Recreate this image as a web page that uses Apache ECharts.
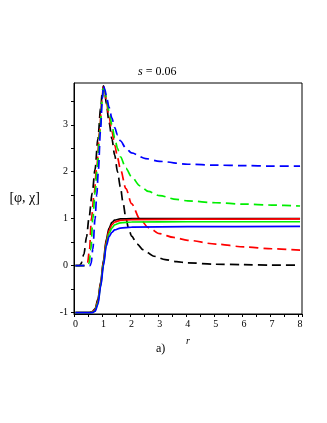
<!DOCTYPE html>
<html>
<head>
<meta charset="utf-8">
<script src="https://cdn.jsdelivr.net/npm/echarts@6/dist/echarts.min.js"></script>
<style>
  html, body { margin: 0; padding: 0; background: #fff; }
  #main { width: 327px; height: 423px; }
</style>
</head>
<body>
<div id="main"></div>
<script>
// data: [r, value]
var phiBlack = [[0,0],[0.15,0],[0.2,0.04],[0.3,0.24],[0.4,0.62],[0.48,1.0],[0.6,1.55],[0.7,2.05],[0.8,2.7],[0.9,3.35],[0.96,3.72],[1.0,3.83],[1.05,3.68],[1.1,3.45],[1.2,3.05],[1.3,2.7],[1.4,2.35],[1.5,2.0],[1.6,1.68],[1.7,1.33],[1.8,1.0],[1.9,0.78],[2.0,0.63],[2.2,0.46],[2.4,0.34],[2.8,0.2],[3.2,0.13],[3.6,0.085],[4,0.06],[5,0.03],[6,0.02],[7,0.012],[8,0.01]];
var phiRed = [[0,0],[0.38,0],[0.43,0.05],[0.5,0.33],[0.57,1.0],[0.67,1.55],[0.76,2.1],[0.86,2.85],[0.94,3.5],[1.0,3.83],[1.05,3.7],[1.1,3.5],[1.2,3.17],[1.3,2.86],[1.4,2.57],[1.5,2.3],[1.6,2.06],[1.8,1.64],[2.0,1.32],[2.3,0.99],[2.6,0.81],[3.0,0.68],[3.5,0.6],[4,0.54],[5,0.46],[6,0.4],[7,0.36],[8,0.33]];
var phiGreen = [[0,0],[0.44,0],[0.49,0.05],[0.55,0.35],[0.62,1.0],[0.7,1.55],[0.78,2.1],[0.87,2.85],[0.95,3.5],[1.0,3.83],[1.05,3.72],[1.1,3.57],[1.2,3.28],[1.3,3.0],[1.4,2.72],[1.5,2.5],[1.6,2.32],[1.8,2.07],[2.0,1.89],[2.3,1.7],[2.6,1.58],[3.0,1.49],[3.6,1.41],[4,1.38],[5,1.34],[6,1.31],[7,1.29],[8,1.27]];
var phiBlue = [[0,0],[0.52,0],[0.56,0.05],[0.62,0.35],[0.7,1.0],[0.76,1.5],[0.82,2.05],[0.89,2.85],[0.96,3.55],[1.0,3.83],[1.05,3.75],[1.1,3.62],[1.2,3.37],[1.3,3.14],[1.4,2.94],[1.5,2.78],[1.6,2.66],[1.8,2.5],[2.0,2.4],[2.5,2.28],[3.0,2.22],[4,2.16],[5,2.14],[6,2.13],[7,2.12],[8,2.12]];

var chiBlack = [[0,-1],[0.5,-1],[0.6,-0.98],[0.7,-0.92],[0.8,-0.72],[0.9,-0.35],[1.0,0.12],[1.1,0.56],[1.2,0.8],[1.3,0.92],[1.4,0.97],[1.6,0.995],[2,1.0],[4,1.0],[8,1.0]];
var chiRed = [[0,-1],[0.52,-1],[0.6,-0.985],[0.7,-0.94],[0.8,-0.76],[0.9,-0.38],[1.0,0.08],[1.1,0.51],[1.2,0.75],[1.3,0.87],[1.4,0.93],[1.6,0.965],[2,0.98],[4,0.99],[8,0.995]];
var chiGreen = [[0,-1],[0.55,-1],[0.65,-0.985],[0.7,-0.955],[0.8,-0.8],[0.9,-0.42],[1.0,0.04],[1.1,0.46],[1.2,0.69],[1.3,0.8],[1.4,0.87],[1.6,0.91],[2,0.93],[4,0.935],[8,0.935]];
var chiBlue = [[0,-1],[0.6,-1],[0.7,-0.97],[0.8,-0.83],[0.9,-0.45],[1.0,0.0],[1.1,0.42],[1.2,0.62],[1.3,0.71],[1.4,0.76],[1.6,0.8],[2,0.82],[4,0.83],[8,0.835]];

var xTicks = [0, 1, 2, 3, 4, 5, 6, 7, 8];
var yTicks = [-1, 0, 1, 2, 3];
var yMinor = [-1, -0.5, 0, 0.5, 1, 1.5, 2, 2.5, 3, 3.5];

var chartDom = document.getElementById("main");
var myChart = echarts.init(chartDom);
var serif = "Liberation Serif";

function dashed(name, color, data) {
  return {
    name: name, type: "line", data: data, showSymbol: false,
    smooth: 0.3, smoothMonotone: "x",
    lineStyle: { color: color, width: 1.7, type: [9, 5] },
    z: 3
  };
}
function solid(name, color, data) {
  return {
    name: name, type: "line", data: data, showSymbol: false,
    smooth: 0.3, smoothMonotone: "x",
    lineStyle: { color: color, width: 1.7 },
    z: 3
  };
}

var option = {
  animation: false,
  grid: {
    left: 74, right: 25, top: 83, bottom: 109,
    show: true, borderColor: "#000", borderWidth: 1
  },
  xAxis: {
    type: "value", min: -0.05, max: 8.07,
    interval: 0.5,
    axisLine: { show: true, onZero: false, lineStyle: { color: "#000" } },
    axisTick: { show: true, length: 3, lineStyle: { color: "#000" } },
    splitLine: { show: false },
    axisLabel: {
      color: "#000", fontFamily: serif, fontSize: 10, margin: 5,
      customValues: xTicks
    },
    name: "{i|r}", nameLocation: "middle", nameGap: 22,
    nameTextStyle: { rich: { i: { fontFamily: serif, fontStyle: "italic", fontSize: 10, color: "#000" } } }
  },
  yAxis: {
    type: "value", min: -1.03, max: 3.89,
    axisLine: { show: true, onZero: false, lineStyle: { color: "#000" } },
    axisTick: { show: true, length: 3, lineStyle: { color: "#000" }, customValues: yMinor },
    splitLine: { show: false },
    axisLabel: {
      color: "#000", fontFamily: serif, fontSize: 10, margin: 6,
      customValues: yTicks
    },
    name: "[\u03c6, \u03c7]", nameLocation: "middle", nameGap: 34, nameRotate: 0,
    nameTextStyle: { fontFamily: serif, fontSize: 14, color: "#000" }
  },
  graphic: [
    {
      type: "text", left: 138, top: 66,
      style: { text: "{i|s} = 0.06", fontFamily: serif, fontSize: 12, fill: "#000",
        rich: { i: { fontFamily: serif, fontStyle: "italic", fontSize: 12 } } }
    },
    {
      type: "text", left: 156, top: 343,
      style: { text: "a)", fontFamily: serif, fontSize: 12, fill: "#000" }
    }
  ],
  series: [
    dashed("phi black", "#000000", phiBlack),
    dashed("phi red", "#ff0000", phiRed),
    dashed("phi green", "#00ee00", phiGreen),
    dashed("phi blue", "#0000ff", phiBlue),
    solid("chi black", "#000000", chiBlack),
    solid("chi red", "#ff0000", chiRed),
    solid("chi green", "#00ee00", chiGreen),
    solid("chi blue", "#0000ff", chiBlue)
  ]
};

if (option && typeof option === "object") {
  myChart.setOption(option);
}
window.onresize = function () {
  myChart.resize();
};
</script>
</body>
</html>
